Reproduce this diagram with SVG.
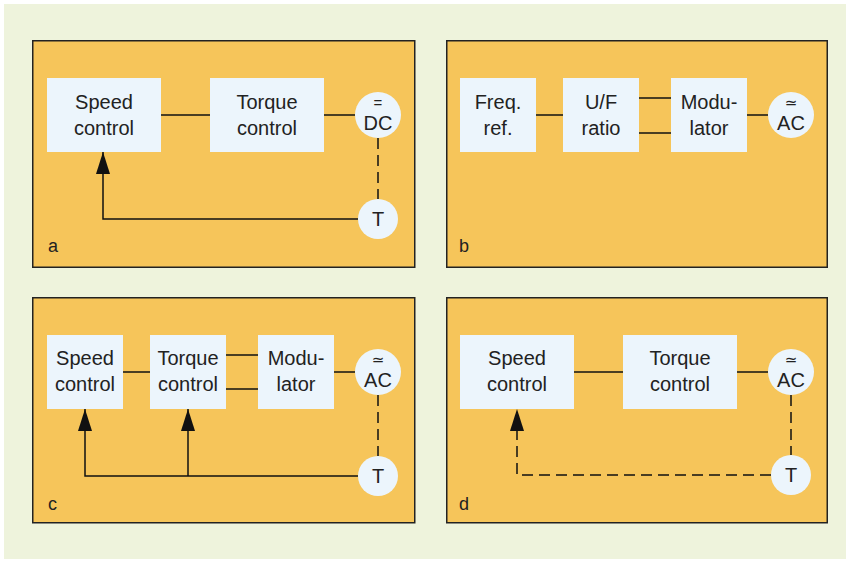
<svg xmlns="http://www.w3.org/2000/svg" width="850" height="563" viewBox="0 0 850 563">
<defs>
<style>
.panel{fill:#f6c55a;stroke:#222;stroke-width:1.5}
.box{fill:#ecf5fc}
.circ{fill:#ecf5fc}
.t{font-family:"Liberation Sans",Arial,sans-serif;font-size:20px;fill:#222;text-anchor:middle}
.lbl{font-family:"Liberation Sans",Arial,sans-serif;font-size:18px;fill:#222}
.eq{font-family:"Liberation Sans",Arial,sans-serif;font-size:15px;fill:#222;text-anchor:middle}
.sym{font-family:"DejaVu Sans",sans-serif;font-size:15px;fill:#222;text-anchor:middle}
.ln{fill:none;stroke:#111;stroke-width:1.5}
.dash{fill:none;stroke:#111;stroke-width:1.5;stroke-dasharray:11 6}
</style>
<marker id="arr" viewBox="0 0 22 14" refX="22" refY="7" markerWidth="22" markerHeight="14" markerUnits="userSpaceOnUse" orient="auto">
<path d="M0,0 L22,7 L0,14 Z" fill="#111"/>
</marker>
</defs>
<rect x="0" y="0" width="850" height="563" fill="#ffffff"/>
<rect x="4" y="4" width="842" height="555" fill="#eef3dc"/>

<g id="panel-a">
<rect class="panel" x="32.75" y="40.75" width="382" height="226.5"/>
<text class="lbl" x="48" y="252">a</text>
</g>
<g id="panel-b">
<rect class="panel" x="446.75" y="40.75" width="380.5" height="226.5"/>
<text class="lbl" x="459" y="252">b</text>
</g>
<g id="panel-c">
<rect class="panel" x="32.75" y="297.75" width="382" height="225"/>
<text class="lbl" x="48" y="510">c</text>
</g>
<g id="panel-d">
<rect class="panel" x="446.75" y="297.75" width="380.5" height="225"/>
<text class="lbl" x="459" y="510">d</text>
</g>

<g id="connectors">
<!-- a -->
<line class="ln" x1="161" y1="115" x2="210" y2="115"/>
<line class="ln" x1="324" y1="115" x2="355" y2="115"/>
<line class="dash" x1="378" y1="138" x2="378" y2="199"/>
<polyline class="ln" points="358,219 103,219 103,152" marker-end="url(#arr)"/>
<!-- b -->
<line class="ln" x1="536" y1="115" x2="563" y2="115"/>
<line class="ln" x1="639" y1="98" x2="671" y2="98"/>
<line class="ln" x1="639" y1="133" x2="671" y2="133"/>
<line class="ln" x1="747" y1="115" x2="768" y2="115"/>
<!-- c -->
<line class="ln" x1="123" y1="372" x2="150" y2="372"/>
<line class="ln" x1="226" y1="355" x2="258" y2="355"/>
<line class="ln" x1="226" y1="389" x2="258" y2="389"/>
<line class="ln" x1="334" y1="372" x2="355" y2="372"/>
<line class="dash" x1="378" y1="395" x2="378" y2="456"/>
<polyline class="ln" points="358,476 85,476 85,409" marker-end="url(#arr)"/>
<polyline class="ln" points="188,476 188,409" marker-end="url(#arr)"/>
<!-- d -->
<line class="ln" x1="574" y1="372" x2="623" y2="372"/>
<line class="ln" x1="737" y1="372" x2="768" y2="372"/>
<line class="dash" x1="791" y1="395" x2="791" y2="455"/>
<polyline class="dash" points="771,475 517,475 517,409" marker-end="url(#arr)"/>
</g>

<!-- panel a nodes -->
<g id="a-speed"><rect class="box" x="47" y="78" width="114" height="74"/><text class="t" x="104" y="109">Speed</text><text class="t" x="104" y="135">control</text></g>
<g id="a-torque"><rect class="box" x="210" y="78" width="114" height="74"/><text class="t" x="267" y="109">Torque</text><text class="t" x="267" y="135">control</text></g>
<g id="a-dc"><circle class="circ" cx="378" cy="115" r="23"/><text class="eq" x="378" y="108">=</text><text class="t" x="378" y="130">DC</text></g>
<g id="a-t"><circle class="circ" cx="378" cy="219" r="20"/><text class="t" x="378" y="226">T</text></g>

<!-- panel b nodes -->
<g id="b-freq"><rect class="box" x="460" y="78" width="76" height="74"/><text class="t" x="498" y="109">Freq.</text><text class="t" x="498" y="135">ref.</text></g>
<g id="b-uf"><rect class="box" x="563" y="78" width="76" height="74"/><text class="t" x="601" y="109">U/F</text><text class="t" x="601" y="135">ratio</text></g>
<g id="b-mod"><rect class="box" x="671" y="78" width="76" height="74"/><text class="t" x="709" y="109">Modu-</text><text class="t" x="709" y="135">lator</text></g>
<g id="b-ac"><circle class="circ" cx="791" cy="115" r="23"/><text class="sym" x="791" y="108">≃</text><text class="t" x="791" y="130">AC</text></g>

<!-- panel c nodes -->
<g id="c-speed"><rect class="box" x="47" y="335" width="76" height="74"/><text class="t" x="85" y="365">Speed</text><text class="t" x="85" y="391">control</text></g>
<g id="c-torque"><rect class="box" x="150" y="335" width="76" height="74"/><text class="t" x="188" y="365">Torque</text><text class="t" x="188" y="391">control</text></g>
<g id="c-mod"><rect class="box" x="258" y="335" width="76" height="74"/><text class="t" x="296" y="365">Modu-</text><text class="t" x="296" y="391">lator</text></g>
<g id="c-ac"><circle class="circ" cx="378" cy="372" r="23"/><text class="sym" x="378" y="365">≃</text><text class="t" x="378" y="387">AC</text></g>
<g id="c-t"><circle class="circ" cx="378" cy="476" r="20"/><text class="t" x="378" y="483">T</text></g>

<!-- panel d nodes -->
<g id="d-speed"><rect class="box" x="460" y="335" width="114" height="74"/><text class="t" x="517" y="365">Speed</text><text class="t" x="517" y="391">control</text></g>
<g id="d-torque"><rect class="box" x="623" y="335" width="114" height="74"/><text class="t" x="680" y="365">Torque</text><text class="t" x="680" y="391">control</text></g>
<g id="d-ac"><circle class="circ" cx="791" cy="372" r="23"/><text class="sym" x="791" y="365">≃</text><text class="t" x="791" y="387">AC</text></g>
<g id="d-t"><circle class="circ" cx="791" cy="475" r="20"/><text class="t" x="791" y="482">T</text></g>
</svg>
